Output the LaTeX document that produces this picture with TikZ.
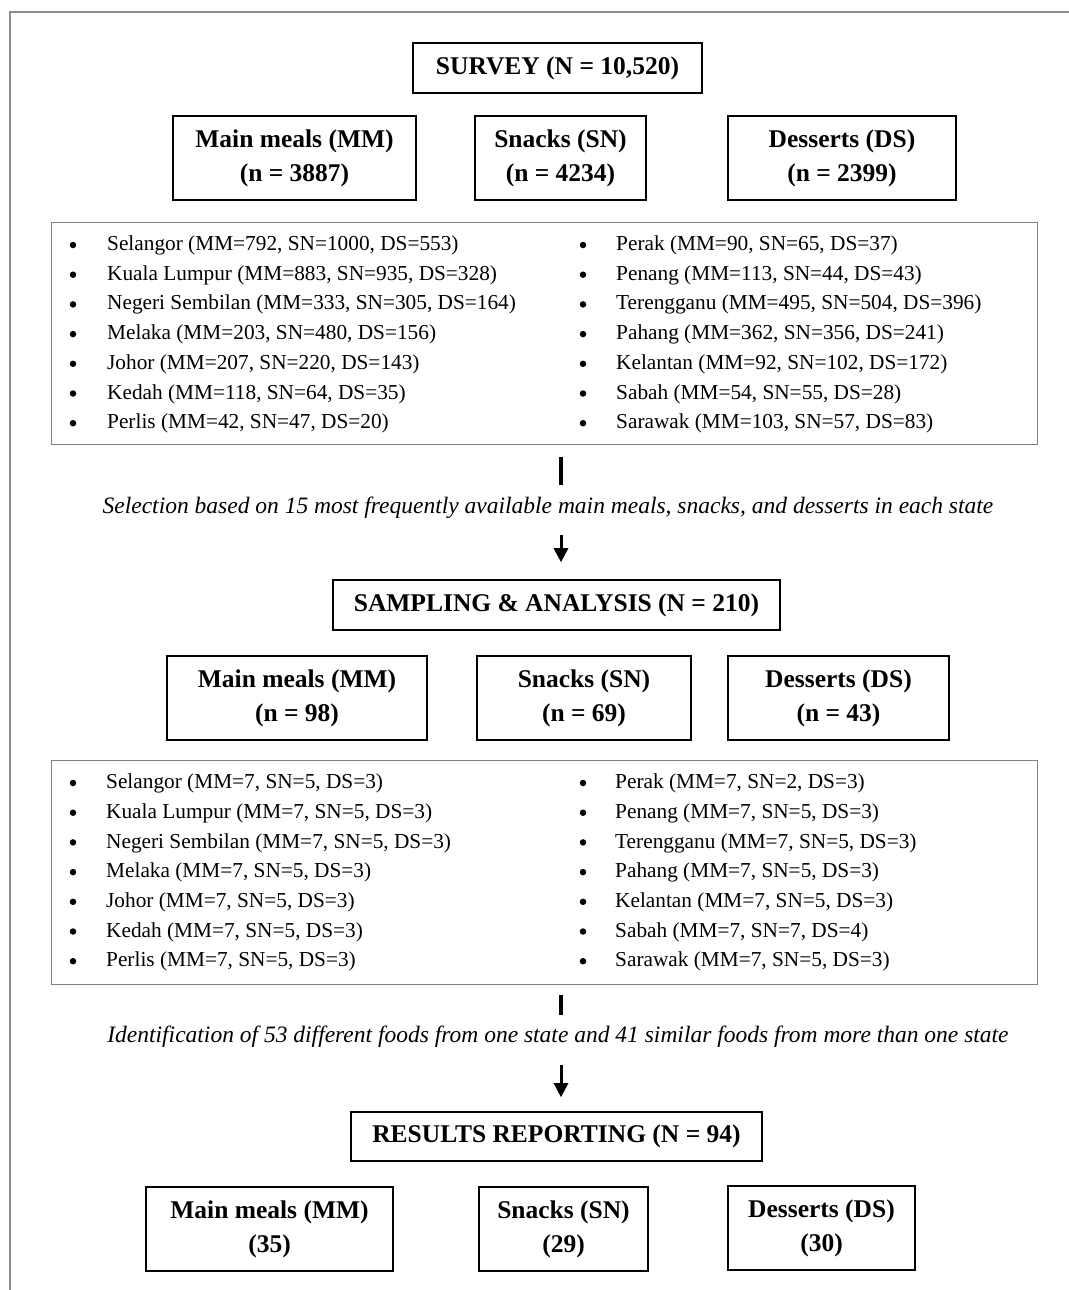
\documentclass[tikz,border=0pt]{standalone}
\usepackage{fontspec}
\setmainfont{Liberation Serif}
\usetikzlibrary{arrows.meta}
\tikzstyle{frame line}=[draw=black!45, line width=1.2bp]
\tikzstyle{stage}=[draw, line width=1.6bp, minimum height=50bp, inner sep=0pt, font=\fontsize{25.5bp}{34bp}\selectfont\bfseries]
\tikzstyle{category}=[stage, minimum height=84bp, align=center]
\tikzstyle{state list}=[draw=black!50, line width=1bp, inner sep=0pt]
\tikzstyle{state}=[anchor=west, inner sep=0pt, font=\fontsize{21.3bp}{24bp}\selectfont]
\tikzstyle{dot}=[circle, fill, inner sep=0pt, minimum size=6.5bp]
\tikzstyle{note}=[inner sep=0pt, text height=15bp, text depth=5bp, font=\fontsize{23.5bp}{26bp}\selectfont\itshape]
\tikzstyle{link bar}=[line width=3.5bp]
\tikzstyle{link arrow}=[line width=3bp, -{Triangle[width=14bp,length=14bp]}]

\begin{document}
\begin{tikzpicture}[x=1bp, y=-1bp]
      \useasboundingbox (0,0) rectangle (1069,1290);
      \draw[frame line] (1069,12) -- (10,12) -- (10,1290);
      \coordinate (axis) at (561,0);

      \node[stage, minimum width=289bp] (survey) at (557.5,68) {SURVEY (N = 10,520)};
      \node[category, minimum width=243bp] (mm1) at (294.5,158) {Main meals (MM)\\(n = 3887)};
      \node[category, minimum width=171bp] (sn1) at (560.5,158) {Snacks (SN)\\(n = 4234)};
      \node[category, minimum width=228bp] (ds1) at (842,158) {Desserts (DS)\\(n = 2399)};

      \node[state list, minimum width=985bp, minimum height=222bp] (list1) at (544.5,333) {};
      \foreach \st [count=\i] in {{Selangor (MM=792, SN=1000, DS=553)},
          {Kuala Lumpur (MM=883, SN=935, DS=328)},
          {Negeri Sembilan (MM=333, SN=305, DS=164)},
          {Melaka (MM=203, SN=480, DS=156)},
          {Johor (MM=207, SN=220, DS=143)},
          {Kedah (MM=118, SN=64, DS=35)},
          {Perlis (MM=42, SN=47, DS=20)}} {
        \node[dot] (bl1\i) at (73,{245+29.7*(\i-1)}) {};
        \node[state] (sl1\i) at (107,{245.5+29.7*(\i-1)}) {\st};
      }
      \foreach \st [count=\i] in {{Perak (MM=90, SN=65, DS=37)},
          {Penang (MM=113, SN=44, DS=43)},
          {Terengganu (MM=495, SN=504, DS=396)},
          {Pahang (MM=362, SN=356, DS=241)},
          {Kelantan (MM=92, SN=102, DS=172)},
          {Sabah (MM=54, SN=55, DS=28)},
          {Sarawak (MM=103, SN=57, DS=83)}} {
        \node[dot] (br1\i) at (583,{245+29.7*(\i-1)}) {};
        \node[state] (sr1\i) at (616,{245.5+29.7*(\i-1)}) {\st};
      }

      \node[note] (sel1) at (548,508) {Selection based on 15 most frequently available main meals, snacks, and desserts in each state};
      \draw[link bar, shorten <=12bp, shorten >=13bp] (list1.south -| axis) -- (sel1.north -| axis);

      \node[stage, minimum width=447bp] (sampling) at (556.5,605) {SAMPLING \& ANALYSIS (N = 210)};
      \draw[link arrow, shorten <=17bp, shorten >=17bp] (sel1.south -| axis) -- (sampling.north -| axis);

      \node[category, minimum width=260bp] (mm2) at (297,698) {Main meals (MM)\\(n = 98)};
      \node[category, minimum width=214bp] (sn2) at (584,698) {Snacks (SN)\\(n = 69)};
      \node[category, minimum width=221bp] (ds2) at (838.5,698) {Desserts (DS)\\(n = 43)};

      \node[state list, minimum width=985bp, minimum height=224bp] (list2) at (544.5,872) {};
      \foreach \st [count=\i] in {{Selangor (MM=7, SN=5, DS=3)},
          {Kuala Lumpur (MM=7, SN=5, DS=3)},
          {Negeri Sembilan (MM=7, SN=5, DS=3)},
          {Melaka (MM=7, SN=5, DS=3)},
          {Johor (MM=7, SN=5, DS=3)},
          {Kedah (MM=7, SN=5, DS=3)},
          {Perlis (MM=7, SN=5, DS=3)}} {
        \node[dot] (bl2\i) at (73,{783+29.7*(\i-1)}) {};
        \node[state] (sl2\i) at (106,{783.5+29.7*(\i-1)}) {\st};
      }
      \foreach \st [count=\i] in {{Perak (MM=7, SN=2, DS=3)},
          {Penang (MM=7, SN=5, DS=3)},
          {Terengganu (MM=7, SN=5, DS=3)},
          {Pahang (MM=7, SN=5, DS=3)},
          {Kelantan (MM=7, SN=5, DS=3)},
          {Sabah (MM=7, SN=7, DS=4)},
          {Sarawak (MM=7, SN=5, DS=3)}} {
        \node[dot] (br2\i) at (583,{783+29.7*(\i-1)}) {};
        \node[state] (sr2\i) at (615,{783.5+29.7*(\i-1)}) {\st};
      }

      \node[note] (sel2) at (558,1037) {Identification of 53 different foods from one state and 41 similar foods from more than one state};
      \draw[link bar, shorten <=10bp, shorten >=12bp] (list2.south -| axis) -- (sel2.north -| axis);

      \node[stage, minimum width=411bp, minimum height=49bp] (results) at (556.5,1136.5) {RESULTS REPORTING (N = 94)};
      \draw[link arrow, shorten <=18bp, shorten >=14bp] (sel2.south -| axis) -- (results.north -| axis);

      \node[category, minimum width=247bp] (mm3) at (269.5,1229) {Main meals (MM)\\(35)};
      \node[category, minimum width=169bp] (sn3) at (563.5,1229) {Snacks (SN)\\(29)};
      \node[category, minimum width=187bp] (ds3) at (821.5,1228) {Desserts (DS)\\(30)};
    \end{tikzpicture}
\end{document}
